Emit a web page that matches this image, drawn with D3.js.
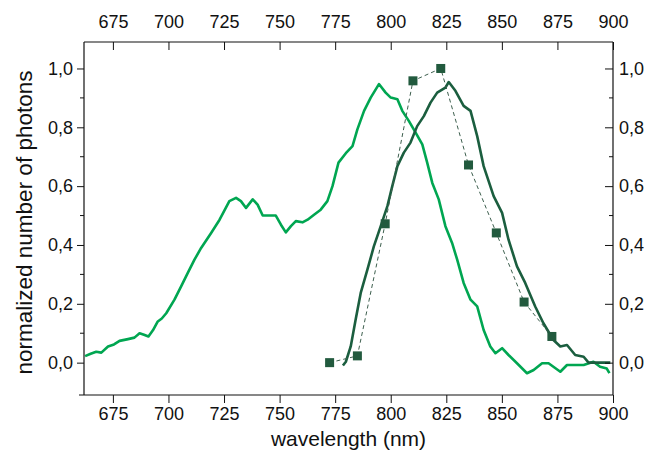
<!DOCTYPE html>
<html>
<head>
<meta charset="utf-8">
<script src="https://cdn.jsdelivr.net/npm/d3@7"></script>
<style>
  body { margin: 0; background: #fff; }
  svg text { font-family: "Liberation Sans", Arial, sans-serif; fill: #111; }
</style>
</head>
<body>
<script>
// ticks on both x axes and both y axes
var xTicks = [675, 700, 725, 750, 775, 800, 825, 850, 875, 900];
var yTicks = [0, 0.2, 0.4, 0.6, 0.8, 1.0];
var yMinorTicks = [0.1, 0.3, 0.5, 0.7, 0.9];

// light green spectrum, [wavelength nm, normalized photons]
var lightCurve = [
  [662.5, 0.022], [665, 0.03], [667.5, 0.037], [669.8, 0.034], [672.8, 0.055], [675.5, 0.062],
  [678, 0.074], [681.8, 0.08], [684.7, 0.085], [687, 0.10], [689, 0.095], [691, 0.089],
  [693, 0.11], [695.2, 0.14], [697, 0.15], [699, 0.168], [702.7, 0.214], [705.7, 0.259],
  [708.7, 0.305], [711.7, 0.35], [714.7, 0.39], [719.2, 0.441], [723, 0.486], [727.4, 0.549],
  [730.4, 0.56], [732.6, 0.549], [734.9, 0.526], [737.9, 0.555], [740.1, 0.537], [742.4, 0.5],
  [746.1, 0.5], [748.3, 0.5], [750.6, 0.469], [752.8, 0.443], [755.1, 0.464], [757.3, 0.481],
  [760.3, 0.477], [762.6, 0.486], [765.5, 0.503], [768.5, 0.52], [771.5, 0.549], [773.8, 0.6],
  [776.5, 0.68], [779.8, 0.712], [782.8, 0.736], [785, 0.793], [788, 0.856], [791, 0.901],
  [794.7, 0.947], [797.7, 0.918], [800, 0.901], [803, 0.895], [805.2, 0.856], [808.2, 0.821],
  [811.2, 0.782], [814.2, 0.742], [816.4, 0.68], [818.7, 0.611], [821.6, 0.555], [824.6, 0.464],
  [827.6, 0.407], [829.9, 0.35], [832.8, 0.271], [835.9, 0.214], [838.9, 0.191], [841.8, 0.111],
  [844.8, 0.055], [847.1, 0.032], [850.1, 0.049], [853, 0.026], [856.8, -0.002], [861.3, -0.036],
  [864.3, -0.025], [868.1, -0.002], [871, -0.002], [876.3, -0.031], [879.3, -0.008], [883, -0.008],
  [886.8, -0.008], [891.2, 0.003], [894.2, -0.014], [897.2, -0.02], [898.4, -0.036]
];

// dark green spectrum
var darkCurve = [
  [778.5, -0.01], [779.8, 0.003], [782, 0.055], [784.2, 0.146], [786.5, 0.237], [789.5, 0.316],
  [792.4, 0.395], [795.5, 0.464], [798.5, 0.532], [800.7, 0.6], [803, 0.668], [805.9, 0.714],
  [808.9, 0.748], [811.9, 0.804], [814.9, 0.838], [817.9, 0.884], [820.9, 0.918], [824.6, 0.935],
  [826.1, 0.954], [829.1, 0.924], [832.8, 0.873], [835.9, 0.856], [838.9, 0.77], [841.8, 0.668],
  [846.3, 0.566], [850.1, 0.509], [853, 0.418], [856.8, 0.327], [860.5, 0.271], [865, 0.191],
  [868.7, 0.134], [873.2, 0.077], [876.3, 0.055], [879.3, 0.06], [883, 0.026], [886.8, 0.02],
  [889, 0], [898.8, 0]
];

// square markers joined by a dashed line
var markerWl = [772.5, 785, 797.5, 810, 822.5, 835, 847.5, 860, 872.5];
var markerVal = [0.0, 0.023, 0.472, 0.958, 1.0, 0.672, 0.441, 0.206, 0.089];

var width = 647, height = 452;
var margin = {top: 42, right: 34, bottom: 57, left: 84};

var fmt = function(d){ return d3.format(".1f")(d).replace(".", ","); };

var svg = d3.select("body").append("svg")
  .attr("width", width)
  .attr("height", height);

var x = d3.scaleLinear()
  .domain([662, 900])
  .range([margin.left, width - margin.right]);

var y = d3.scaleLinear()
  .domain([-0.11, 1.09])
  .range([height - margin.bottom, margin.top]);

var lightColor = "#00a651";
var darkColor = "#1b5e3f";

// curves
var line = d3.line()
  .x(function(d){ return x(d[0]); })
  .y(function(d){ return y(d[1]); });

svg.append("path")
  .datum(lightCurve)
  .attr("fill", "none")
  .attr("stroke", lightColor)
  .attr("stroke-width", 2.6)
  .attr("stroke-linejoin", "round")
  .attr("d", line);

svg.append("path")
  .datum(darkCurve)
  .attr("fill", "none")
  .attr("stroke", darkColor)
  .attr("stroke-width", 2.6)
  .attr("stroke-linejoin", "round")
  .attr("d", line);

var markers = markerWl.map(function(w, i){ return [w, markerVal[i]]; });

svg.append("path")
  .datum(markers)
  .attr("fill", "none")
  .attr("stroke", "#3d5f4e")
  .attr("stroke-width", 1)
  .attr("stroke-dasharray", "4,3")
  .attr("d", line);

svg.selectAll("rect.marker")
  .data(markers)
  .enter().append("rect")
  .attr("class", "marker")
  .attr("x", function(d){ return x(d[0]) - 4.5; })
  .attr("y", function(d){ return y(d[1]) - 4.5; })
  .attr("width", 9)
  .attr("height", 9)
  .attr("fill", "#225a3e");

// axes
var bottomAxis = d3.axisBottom(x).tickValues(xTicks).tickSize(8).tickPadding(4).tickFormat(d3.format("d"));
var topAxis = d3.axisBottom(x).tickValues(xTicks).tickSize(8).tickFormat("");
var leftAxis = d3.axisLeft(y).tickValues(yTicks).tickSize(7).tickPadding(4).tickFormat(fmt);
var rightAxis = d3.axisLeft(y).tickValues(yTicks).tickSize(8).tickFormat(fmt);

var gB = svg.append("g")
  .attr("transform", "translate(0," + (height - margin.bottom) + ")")
  .call(bottomAxis);

var gT = svg.append("g")
  .attr("transform", "translate(0," + margin.top + ")")
  .call(topAxis);
gT.selectAll(".tick").append("text")
  .attr("y", -14)
  .attr("text-anchor", "middle")
  .text(function(d){ return d; });

var gL = svg.append("g")
  .attr("transform", "translate(" + margin.left + ",0)")
  .call(leftAxis);

var gR = svg.append("g")
  .attr("transform", "translate(" + (width - margin.right) + ",0)")
  .call(rightAxis);
gR.selectAll(".tick text")
  .attr("x", 6)
  .attr("text-anchor", "start");

// minor ticks on the y axes
gL.selectAll("line.minor")
  .data(yMinorTicks)
  .enter().append("line")
  .attr("class", "minor")
  .attr("x1", -4).attr("x2", 0)
  .attr("y1", function(d){ return y(d); })
  .attr("y2", function(d){ return y(d); })
  .attr("stroke", "#111");

gR.selectAll("line.minor")
  .data(yMinorTicks)
  .enter().append("line")
  .attr("class", "minor")
  .attr("x1", -4).attr("x2", 0)
  .attr("y1", function(d){ return y(d); })
  .attr("y2", function(d){ return y(d); })
  .attr("stroke", "#111");

svg.selectAll(".domain")
  .attr("stroke", "#111")
  .attr("stroke-width", 1.2);
svg.selectAll(".tick line")
  .attr("stroke", "#111");
svg.selectAll(".tick text")
  .attr("font-size", 18)
  .attr("fill", "#111");

// plain frame lines without the outer tick caps
gT.select(".domain").attr("d", "M" + margin.left + ",0H" + (width - margin.right));
gB.select(".domain").attr("d", "M" + (margin.left - 5) + ",0H" + (width - margin.right));
gL.select(".domain").attr("d", "M0," + margin.top + "V" + (height - margin.bottom));
gR.select(".domain").attr("d", "M0," + margin.top + "V" + (height - margin.bottom));

// titles
svg.append("text")
  .attr("x", (margin.left + width - margin.right) / 2)
  .attr("y", 446)
  .attr("text-anchor", "middle")
  .attr("font-size", 21)
  .text("wavelength (nm)");

svg.append("text")
  .attr("transform", "translate(32," + ((margin.top + height - margin.bottom) / 2 + 4) + ") rotate(-90)")
  .attr("text-anchor", "middle")
  .attr("font-size", 22.5)
  .text("normalized number of photons");
</script>
</body>
</html>
